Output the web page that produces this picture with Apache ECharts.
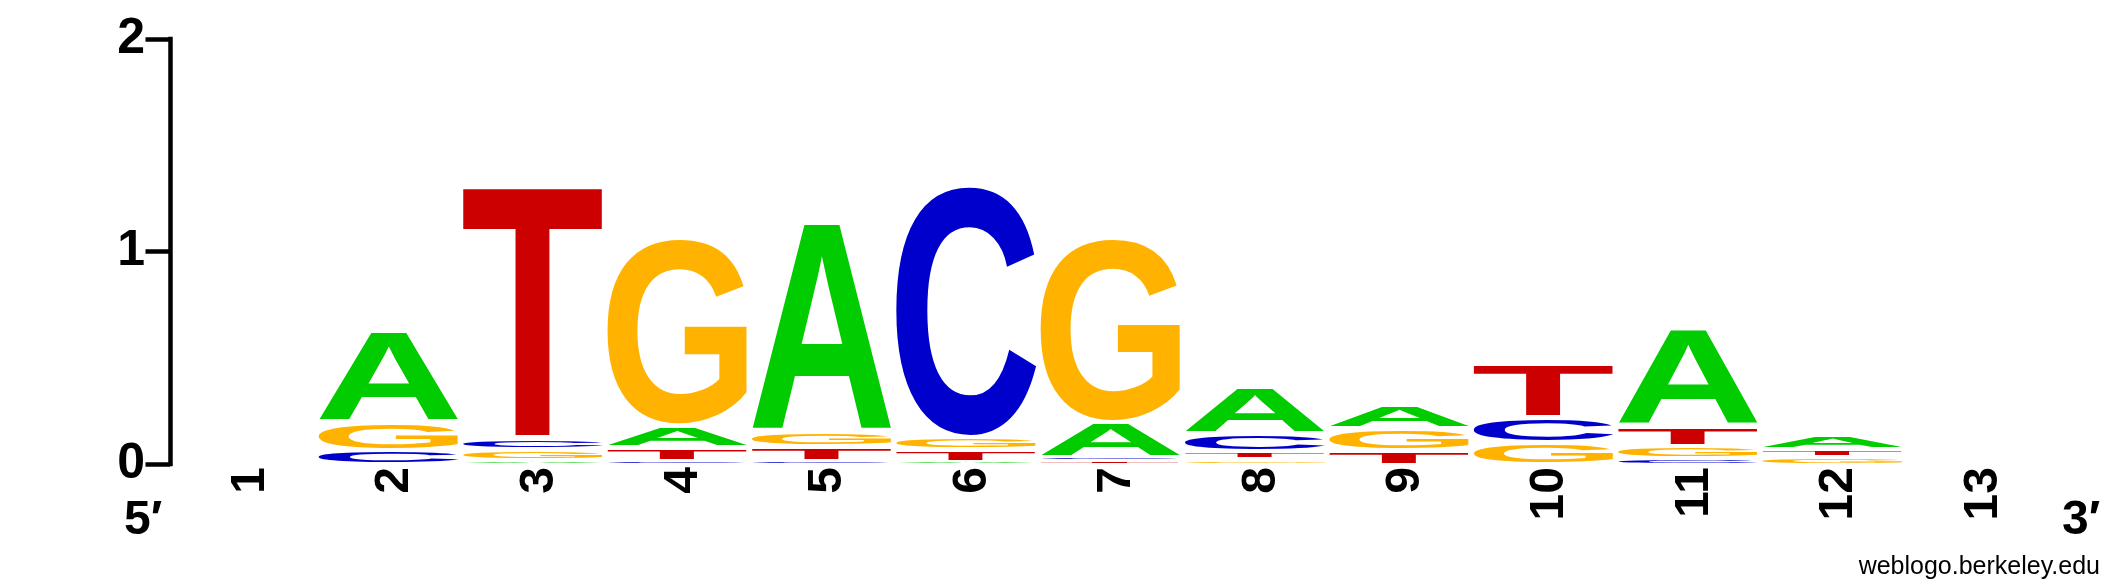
<!DOCTYPE html>
<html>
<head>
<meta charset="utf-8">
<title>Sequence logo</title>
<script src="https://cdn.jsdelivr.net/npm/echarts@6.0.0/dist/echarts.min.js"></script>
<style>
    html, body { margin: 0; padding: 0; background: #fff; }
    #main { width: 2125px; height: 588px; }
</style>
</head>
<body>
<div id="main"></div>
<script>
// 位置编号 (x轴)
var positions = ['1', '2', '3', '4', '5', '6', '7', '8', '9', '10', '11', '12', '13'];

// 每个位置上各碱基的高度 (bits)
var bitsA = [0, 0.426, 0.022, 0.102, 0.986, 0.014, 0.164, 0.219, 0.115, 0, 0.457, 0.067, 0];
var bitsC = [0, 0.069, 0.055, 0.018, 0.016, 1.188, 0.019, 0.083, 0, 0.121, 0.033, 0, 0];
var bitsG = [0, 0.133, 0.053, 0.887, 0.071, 0.059, 0.872, 0.027, 0.103, 0.103, 0.056, 0.037, 0];
var bitsT = [0, 0, 1.190, 0.065, 0.070, 0.057, 0.017, 0.038, 0.067, 0.250, 0.093, 0.038, 0];

// y轴刻度
var yTicks = [0, 1, 2];

var letters = ['A', 'C', 'G', 'T'];
var letterBits = { A: bitsA, C: bitsC, G: bitsG, T: bitsT };
var letterColors = { A: '#00cc00', C: '#0000cc', G: '#ffb300', T: '#cc0000' };

var fontFamily = '"Liberation Sans", Arial, Helvetica, sans-serif';
var glyphFont = 'bold 200px ' + fontFamily;

// 量一下每个字母墨迹的边界, 之后拉伸到格子里
var ctx = document.createElement('canvas').getContext('2d');
ctx.font = glyphFont;
ctx.textBaseline = 'middle';
ctx.textAlign = 'left';
var ink = {};
letters.forEach(function (l) {
    var m = ctx.measureText(l);
    ink[l] = {
        left: -m.actualBoundingBoxLeft,
        right: m.actualBoundingBoxRight,
        top: -m.actualBoundingBoxAscent,
        bottom: m.actualBoundingBoxDescent
    };
});

// 每一列从小到大堆叠: [列, 下沿, 上沿, 字母序号]
var stackData = [];
positions.forEach(function (p, i) {
    var col = letters.map(function (l, li) {
        return { li: li, v: letterBits[l][i] };
    }).filter(function (d) {
        return d.v > 0;
    });
    col.sort(function (a, b) { return a.v - b.v; });
    var base = 0;
    col.forEach(function (d) {
        stackData.push([i, base, base + d.v, d.li]);
        base += d.v;
    });
});

function renderLetter(params, api) {
    var col = api.value(0);
    var lo = api.value(1);
    var hi = api.value(2);
    var l = letters[api.value(3)];
    var pLo = api.coord([col, lo]);
    var pHi = api.coord([col, hi]);
    var band = api.size([1, 0])[0];
    var w = band - 4.4;
    var h = pLo[1] - pHi[1];
    var gap = Math.max(0, Math.min(4.6, h - 1));
    var y0 = pHi[1] + gap * 0.7;
    var y1 = pLo[1] - gap * 0.3;
    var x0 = pLo[0] - w / 2;
    var g = ink[l];
    var sx = w / (g.right - g.left);
    var sy = (y1 - y0) / (g.bottom - g.top);
    return {
        type: 'text',
        x: x0 - g.left * sx,
        y: y0 - g.top * sy,
        scaleX: sx,
        scaleY: sy,
        silent: true,
        style: {
            text: l,
            x: 0,
            y: 0,
            font: glyphFont,
            fill: letterColors[l],
            align: 'left',
            verticalAlign: 'middle'
        }
    };
}

var chart = echarts.init(document.getElementById('main'));

var option = {
    backgroundColor: '#fff',
    animation: false,
    grid: {
        left: 172,
        right: 76,
        top: 39,
        bottom: 124,
        outerBoundsMode: 'none'
    },
    xAxis: {
        type: 'category',
        data: positions,
        axisLine: { show: false },
        axisTick: { show: false },
        splitLine: { show: false },
        axisLabel: {
            interval: 0,
            rotate: 90,
            margin: 3,
            color: '#000',
            fontSize: 48,
            fontWeight: 'bold',
            fontFamily: fontFamily,
            // 编号比列中心稍微偏右
            verticalAlign: 'top',
            lineHeight: 13
        }
    },
    yAxis: {
        type: 'value',
        min: yTicks[0],
        max: yTicks[yTicks.length - 1],
        interval: 1,
        offset: 2,
        axisLine: {
            show: true,
            lineStyle: { color: '#000', width: 4.5, cap: 'square' }
        },
        axisTick: {
            show: true,
            length: 24.5,
            lineStyle: { color: '#000', width: 4.5 }
        },
        axisLabel: {
            margin: 25,
            color: '#000',
            fontSize: 50,
            fontWeight: 'bold',
            fontFamily: fontFamily
        },
        splitLine: { show: false }
    },
    graphic: [
        {
            type: 'text',
            x: 124,
            y: 521,
            style: { text: '5′', font: 'bold 48px ' + fontFamily, fill: '#000', align: 'left', verticalAlign: 'middle' }
        },
        {
            type: 'text',
            x: 2062,
            y: 521,
            style: { text: '3′', font: 'bold 48px ' + fontFamily, fill: '#000', align: 'left', verticalAlign: 'middle' }
        },
        {
            type: 'text',
            x: 2100,
            y: 567,
            style: { text: 'weblogo.berkeley.edu', font: '25px ' + fontFamily, fill: '#000', align: 'right', verticalAlign: 'middle' }
        }
    ],
    series: [{
        type: 'custom',
        silent: true,
        renderItem: renderLetter,
        encode: { x: 0, y: [1, 2] },
        data: stackData
    }]
};

chart.setOption(option);
</script>
</body>
</html>
